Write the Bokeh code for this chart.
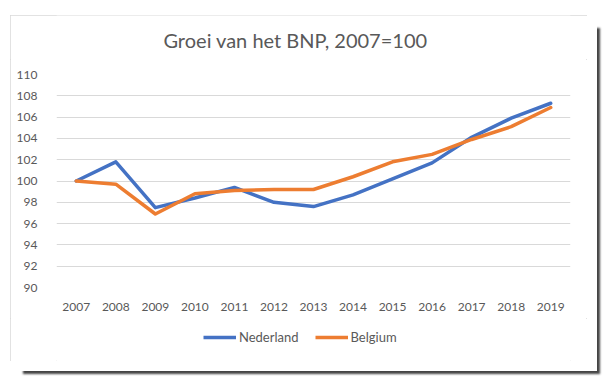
from bokeh.plotting import figure
from bokeh.models import Legend, LegendItem, Label
from bokeh.layouts import column
from bokeh.embed import file_html
from bokeh.resources import INLINE

title_text = "Groei van het BNP, 2007=100"
years = ["2007", "2008", "2009", "2010", "2011", "2012", "2013",
         "2014", "2015", "2016", "2017", "2018", "2019"]
nederland = [100.0, 101.8, 97.5, 98.4, 99.4, 98.0, 97.6, 98.7, 100.2, 101.7, 104.1, 105.9, 107.3]
belgium = [100.0, 99.7, 96.9, 98.8, 99.1, 99.2, 99.2, 100.4, 101.8, 102.5, 103.9, 105.1, 106.9]
y_ticks = [90, 92, 94, 96, 98, 100, 102, 104, 106, 108, 110]
series_names = ["Nederland", "Belgium"]
series_values = [nederland, belgium]
series_colors = ["#4472C4", "#ED7D31"]

FONT = "Lato"
TXT = "#595959"


def blank(fig):
    fig.background_fill_color = "white"
    fig.border_fill_color = "white"
    fig.outline_line_color = None
    fig.xgrid.grid_line_color = None
    fig.ygrid.grid_line_color = None


# title strip
t = figure(width=577, height=44, x_range=(0, 1), y_range=(0, 1),
           output_backend="svg", toolbar_location=None,
           x_axis_type=None, y_axis_type=None,
           min_border_left=0, min_border_right=0,
           min_border_top=0, min_border_bottom=0)
blank(t)
t.add_layout(Label(x=239, y=20, x_units="screen", y_units="screen",
                   text=title_text, text_align="center", text_baseline="middle",
                   text_font=FONT, text_font_size="20px", text_color=TXT))

# main chart
p = figure(x_range=years, y_range=(90, 110), width=577, height=259,
           output_backend="svg", toolbar_location=None,
           min_border_left=46, min_border_right=17,
           min_border_top=15, min_border_bottom=31)
p.background_fill_color = "white"
p.border_fill_color = "white"
p.outline_line_color = None

for vals, col in zip(series_values, series_colors):
    p.line(years, vals, line_width=3.5, color=col,
           line_join="round", line_cap="round")

p.xgrid.grid_line_color = None
p.ygrid.grid_line_color = "#D9D9D9"
p.ygrid.grid_line_width = 1
p.yaxis.ticker = y_ticks

for ax in (p.xaxis[0], p.yaxis[0]):
    ax.axis_line_color = None
    ax.major_tick_line_color = None
    ax.minor_tick_line_color = None
    ax.major_label_text_font = FONT
    ax.major_label_text_font_size = "12px"
    ax.major_label_text_color = TXT
p.xaxis.major_label_standoff = 9
p.yaxis.major_label_standoff = 13

# legend strip below the chart (series lie outside its visible range)
q = figure(width=577, height=43, x_range=years, y_range=(0, 1),
           output_backend="svg", toolbar_location=None,
           x_axis_type=None, y_axis_type=None,
           min_border_left=0, min_border_right=0,
           min_border_top=0, min_border_bottom=0)
blank(q)

items = []
for name, vals, col in zip(series_names, series_values, series_colors):
    r = q.line(years, vals, line_width=3.5, color=col)
    items.append(LegendItem(label=name, renderers=[r]))

legend = Legend(items=items, orientation="horizontal", location=(147, 14),
                border_line_color=None, background_fill_alpha=0,
                label_text_font=FONT, label_text_font_size="13px",
                label_text_color=TXT, glyph_width=33, glyph_height=20,
                label_standoff=3, spacing=16, padding=5, margin=0)
q.add_layout(legend)

layout = column(t, p, q, spacing=0, styles={
    "margin-left": "10px",
    "margin-top": "15px",
    "background-color": "white",
    "outline": "1px solid #d9d9d9",
    "outline-offset": "-1px",
    "box-shadow": "10px 10px 0 0 white, 13px 13px 2px 0 #444",
})

open("out.html", "w").write(file_html(layout, INLINE))
